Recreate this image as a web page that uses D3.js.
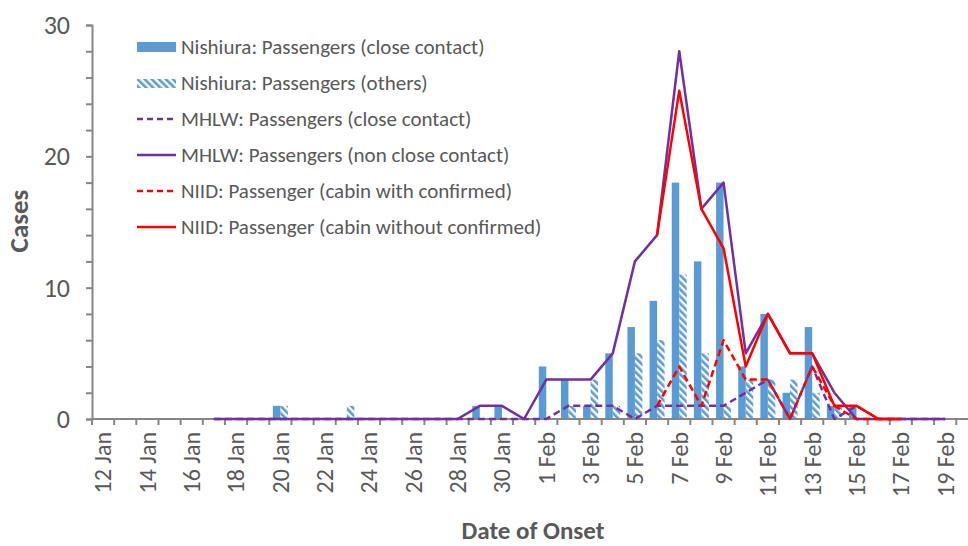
<html>
<head>
<meta charset="utf-8">
<script src="https://d3js.org/d3.v7.min.js"></script>
<style>
body {margin: 0; background: #fff;}
text {font-family: Carlito, Calibri, Lato, sans-serif; fill: #595959;}
</style>
</head>
<body>
<svg id="chart" width="968" height="546"></svg>

<script>
// dates of onset, 12 Jan .. 20 Feb
var dates = ["12 Jan","13 Jan","14 Jan","15 Jan","16 Jan","17 Jan","18 Jan","19 Jan","20 Jan","21 Jan",
             "22 Jan","23 Jan","24 Jan","25 Jan","26 Jan","27 Jan","28 Jan","29 Jan","30 Jan","31 Jan",
             "1 Feb","2 Feb","3 Feb","4 Feb","5 Feb","6 Feb","7 Feb","8 Feb","9 Feb","10 Feb",
             "11 Feb","12 Feb","13 Feb","14 Feb","15 Feb","16 Feb","17 Feb","18 Feb","19 Feb","20 Feb"];

// bars (Nishiura)
var nishiuraClose  = [0,0,0,0,0,0,0,0,1,0, 0,0,0,0,0,0,0,1,1,0, 4,3,1,5,7,9,18,12,18,4, 8,2,7,1,1,0,0,0,0,0];
var nishiuraOthers = [0,0,0,0,0,0,0,0,1,0, 0,1,0,0,0,0,0,0,0,0, 0,1,3,1,5,6,11,5,1,3, 3,3,2,1,0,0,0,0,0,0];

// lines (null = no data)
var mhlwClose    = [null,null,null,null,null,0,0,0,0,0, 0,0,0,0,0,0,0,0,0,0, 0,1,1,1,0,1,1,1,1,2, 3,0,4,0,1,0,0,0,0,null];
var mhlwNonClose = [null,null,null,null,null,0,0,0,0,0, 0,0,0,0,0,0,0,1,1,0, 3,3,3,5,12,14,28,16,18,5, 8,5,5,2,0,0,0,0,0,null];
var niidWith     = [null,null,null,null,null,null,null,null,null,null, null,null,null,null,null,null,null,null,null,null,
                    null,null,null,null,null,1,4,1,6,3, 3,0,4,1,0,0,0,null,null,null];
var niidWithout  = [null,null,null,null,null,null,null,null,null,null, null,null,null,null,null,null,null,null,null,null,
                    null,null,null,null,null,14,25,16,13,4, 8,5,5,1,1,0,0,null,null,null];

var yTicks = [0, 10, 20, 30];

var blue = "#5B9BD5", purple = "#7030A0", red = "#FF0000", axisColor = "#868686";

var svg = d3.select("#chart");

// scales
var left = 92, step = 22.16;
var x = d3.scaleBand().domain(dates).range([left, left + step * dates.length]);
var xInner = d3.scaleBand().domain(["close", "others"]).range([0, 15]);
var pad = (x.bandwidth() - 15) / 2;
var y = d3.scaleLinear().domain([0, 30]).range([419, 25]);

// hatch pattern for "others"
var defs = svg.append("defs");
defs.append("pattern")
  .attr("id", "hatch")
  .attr("patternUnits", "userSpaceOnUse")
  .attr("width", 5).attr("height", 5)
  .attr("patternTransform", "rotate(-45)")
  .append("rect")
  .attr("width", 2.6).attr("height", 5)
  .attr("fill", blue);

// bars
var bars = svg.append("g");
bars.selectAll(".close")
  .data(dates)
  .enter().append("rect")
  .attr("x", function(d) { return x(d) + pad + xInner("close"); })
  .attr("width", xInner.bandwidth())
  .attr("y", function(d, i) { return y(nishiuraClose[i]); })
  .attr("height", function(d, i) { return y(0) - y(nishiuraClose[i]); })
  .attr("fill", blue);

bars.selectAll(".others")
  .data(dates)
  .enter().append("rect")
  .attr("x", function(d) { return x(d) + pad + xInner("others"); })
  .attr("width", xInner.bandwidth())
  .attr("y", function(d, i) { return y(nishiuraOthers[i]); })
  .attr("height", function(d, i) { return y(0) - y(nishiuraOthers[i]); })
  .attr("fill", "url(#hatch)");

// axes
var yAxis = d3.axisLeft(y).tickValues(d3.range(0, 31, 2)).tickSize(6).tickFormat("");
svg.append("g")
  .attr("transform", "translate(" + left + ",0)")
  .call(yAxis)
  .call(function(g) {
    g.select(".domain").attr("stroke", axisColor).attr("stroke-width", 2);
    g.selectAll(".tick line").attr("stroke", axisColor).attr("stroke-width", 2);
  });

svg.append("g").selectAll("text")
  .data(yTicks)
  .enter().append("text")
  .attr("x", 70)
  .attr("y", function(d) { return y(d); })
  .attr("dy", "0.35em")
  .attr("text-anchor", "end")
  .style("font-size", "26px")
  .text(function(d) { return d; });

// x axis line and tick marks at category edges
var edges = dates.map(function(d) { return x(d); });
svg.append("line")
  .attr("x1", left).attr("x2", 980)
  .attr("y1", y(0)).attr("y2", y(0))
  .attr("stroke", axisColor).attr("stroke-width", 2);
svg.append("g").selectAll("line")
  .data(edges)
  .enter().append("line")
  .attr("x1", function(d) { return d; }).attr("x2", function(d) { return d; })
  .attr("y1", y(0)).attr("y2", y(0) + 6)
  .attr("stroke", axisColor).attr("stroke-width", 2);

svg.append("g").selectAll("text")
  .data(dates.filter(function(d, i) { return i % 2 == 0; }))
  .enter().append("text")
  .attr("transform", function(d) { return "translate(" + (x(d) + x.bandwidth() / 2) + ",432) rotate(-90)"; })
  .attr("dy", "0.35em")
  .attr("text-anchor", "end")
  .style("font-size", "24px")
  .text(function(d) { return d; });

// lines
var line = d3.line()
  .defined(function(d) { return d.v != null; })
  .x(function(d) { return x(d.date) + x.bandwidth() / 2; })
  .y(function(d) { return y(d.v); });

var series = [
  {name: "MHLW: Passengers (close contact)", values: mhlwClose, color: purple, dash: "7,4"},
  {name: "MHLW: Passengers (non close contact)", values: mhlwNonClose, color: purple, dash: null},
  {name: "NIID: Passenger (cabin with confirmed)", values: niidWith, color: red, dash: "7,4"},
  {name: "NIID: Passenger (cabin without confirmed)", values: niidWithout, color: red, dash: null}
];

series.forEach(function(s) {
  svg.append("path")
    .datum(dates.map(function(d, i) { return {date: d, v: s.values[i]}; }))
    .attr("d", line)
    .attr("fill", "none")
    .attr("stroke", s.color)
    .attr("stroke-width", 2.5)
    .attr("stroke-dasharray", s.dash)
    .attr("stroke-linejoin", "round");
});

// legend
var legendItems = [
  {name: "Nishiura: Passengers (close contact)", type: "bar"},
  {name: "Nishiura: Passengers (others)", type: "hatch"}
].concat(series.map(function(s) { return {name: s.name, type: "line", color: s.color, dash: s.dash}; }));

var legend = svg.append("g");
legendItems.forEach(function(d, i) {
  var cy = 47 + i * 36;
  if (d.type == "bar") {
    legend.append("rect").attr("x", 137).attr("y", cy - 5).attr("width", 39).attr("height", 10).attr("fill", blue);
  } else if (d.type == "hatch") {
    legend.append("rect").attr("x", 137).attr("y", cy - 4).attr("width", 39).attr("height", 9).attr("fill", "url(#hatch)");
  } else {
    legend.append("line")
      .attr("x1", 137).attr("x2", 176).attr("y1", cy).attr("y2", cy)
      .attr("stroke", d.color).attr("stroke-width", 2.5)
      .attr("stroke-dasharray", d.dash ? "6,4" : null);
  }
  legend.append("text")
    .attr("x", 181).attr("y", cy)
    .attr("dy", "0.35em")
    .style("font-size", "21px")
    .text(d.name);
});

// axis titles
svg.append("text")
  .attr("transform", "translate(28,221) rotate(-90)")
  .attr("text-anchor", "middle")
  .style("font-size", "27px")
  .style("font-weight", "bold")
  .text("Cases");

svg.append("text")
  .attr("x", 533).attr("y", 539)
  .attr("text-anchor", "middle")
  .style("font-size", "25px")
  .style("font-weight", "bold")
  .text("Date of Onset");
</script>
</body>
</html>
